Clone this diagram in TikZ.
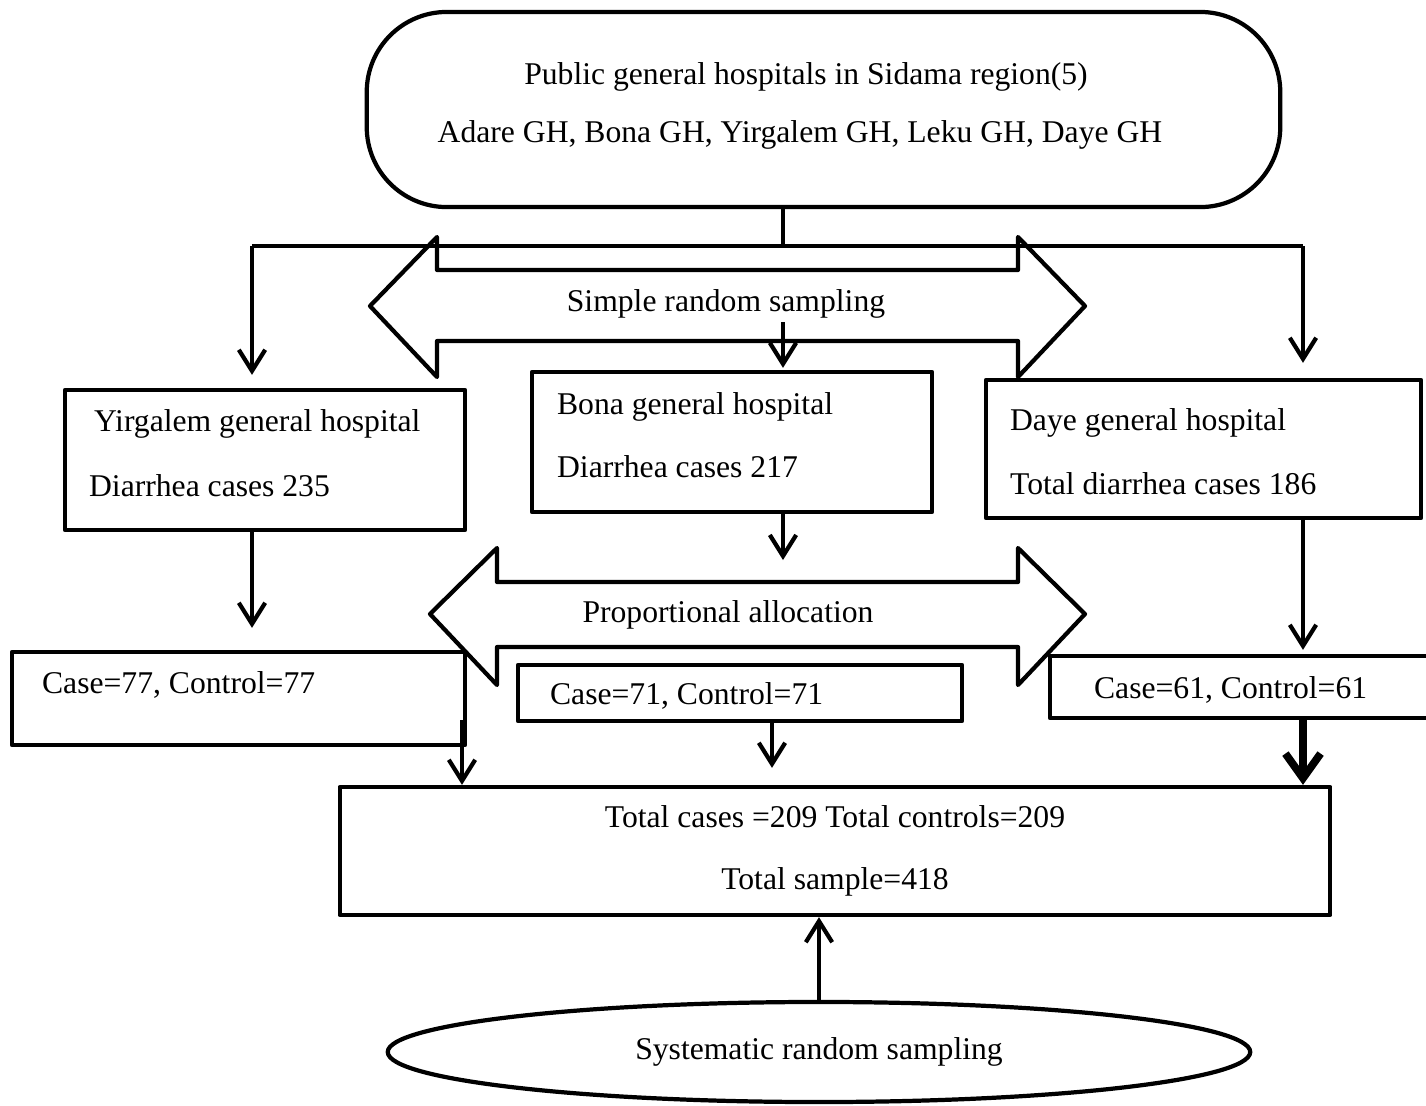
\documentclass[tikz,border=0pt]{standalone}
\usepackage{fontspec}
\setmainfont{Liberation Serif}
\usetikzlibrary{arrows.meta,positioning,calc,shapes.geometric}

\tikzset{
  box/.style={draw, rectangle, inner sep=0pt},
  txt/.style={font=\fontsize{9}{17.6}\selectfont, inner sep=0pt},
  flow/.style={->, >={Straight Barb[length=6pt,width=7.5pt]}},
}

\begin{document}
\begin{tikzpicture}[x=0.01cm, y=-0.01cm, line width=1.2pt, line join=round]
\useasboundingbox (0,0) rectangle (1426,1105);

% Hospitals
\node[box, rounded corners=0.8cm, minimum width=9.13cm, minimum height=1.95cm] (H) at (823.5,109.5) {};
\node[txt] (h1) at (806,77) {Public general hospitals in Sidama region(5)};
\node[txt] (h2) at (800,135) {Adare GH, Bona GH, Yirgalem GH, Leku GH, Daye GH};

\node[box, minimum width=4cm, minimum height=1.4cm] (Y) at (265,460) {};
\node[box, minimum width=4cm, minimum height=1.4cm] (B) at (732,442) {};
\node[box, minimum width=4.35cm, minimum height=1.38cm] (D) at (1203.5,449) {};
\node[txt, anchor=west] (y1) at (92,424) {Yirgalem general hospital};
\node[txt, anchor=west] (y2) at (87,486) {Diarrhea cases 235};
\node[txt, anchor=west] (b1) at (555,407) {Bona general hospital};
\node[txt, anchor=west] (b2) at (555,467) {Diarrhea cases 217};
\node[txt, anchor=west] (d1) at (1008,423) {Daye general hospital};
\node[txt, anchor=west] (d2) at (1008,484) {Total diarrhea cases 186};

% Cases and controls
\node[box, minimum width=4.53cm, minimum height=0.93cm] (C1) at (238.5,698.5) {};
\node[box, minimum width=4.44cm, minimum height=0.56cm] (C2) at (740,693) {};
\node[box, minimum width=3.82cm, minimum height=0.62cm] (C3) at (1241,687) {};
\node[txt, anchor=west] (k1) at (40,685) {Case=77, Control=77};
\node[txt, anchor=west] (k2) at (548,696) {Case=71, Control=71};
\node[txt, anchor=west] (k3) at (1092,690) {Case=61, Control=61};

\node[box, txt, align=center, minimum width=9.9cm, minimum height=1.28cm] (T) at (835,851)
  {Total cases =209 Total controls=209\\Total sample=418};
\node[draw, ellipse, txt, minimum width=8.62cm, minimum height=1cm] (E) at (819,1052)
  {Systematic random sampling};

% Sampling arrows
\draw (370,306) -- (437,237) -- (437,270) -- (1018,270) -- (1018,237) -- (1085,306)
  -- (1018,377) -- (1018,341) -- (437,341) -- (437,377) -- cycle;
\node[txt] (srs) at (726,304) {Simple random sampling};
\draw (430,614) -- (497,548) -- (497,582) -- (1018,582) -- (1018,548) -- (1085,614)
  -- (1018,685) -- (1018,647) -- (497,647) -- (497,685) -- cycle;
\node[txt] (pa) at (728,615) {Proportional allocation};

% Connectors
\coordinate (J) at (783,246);
\coordinate (L) at (252,246);
\coordinate (R) at (1303,246);
\coordinate (s1) at (783,322);
\coordinate (p1) at (783,560);
\coordinate (c1) at (462,720);
\coordinate (c2) at (772,721);
\draw (H.south -| J) -- (J);
\draw (L) -- (R);
\draw[flow, shorten >=0.13cm] (L) -- (Y.north -| L);
\draw[flow, shorten >=0.15cm] (R) -- (D.north -| R);
\draw[flow, shorten >=0.02cm] (s1) -- (B.north -| s1);
\draw[flow, shorten >=0.22cm] (Y.south -| L) -- (C1.north -| L);
\draw[flow] (B.south -| s1) -- (p1);
\draw[flow, shorten >=0.04cm] (D.south -| R) -- (C3.north -| R);
\draw[flow] (c1) -- (T.north -| c1);
\draw[flow, shorten >=0.17cm] (c2) -- (T.north -| c2);
\draw[->, line width=2.2pt, >={Straight Barb[length=7pt,width=10pt]}] (C3.south -| R) -- (T.north -| R);
\draw[flow] (E.north) -- (T.south -| E.north);
\end{tikzpicture}
\end{document}
